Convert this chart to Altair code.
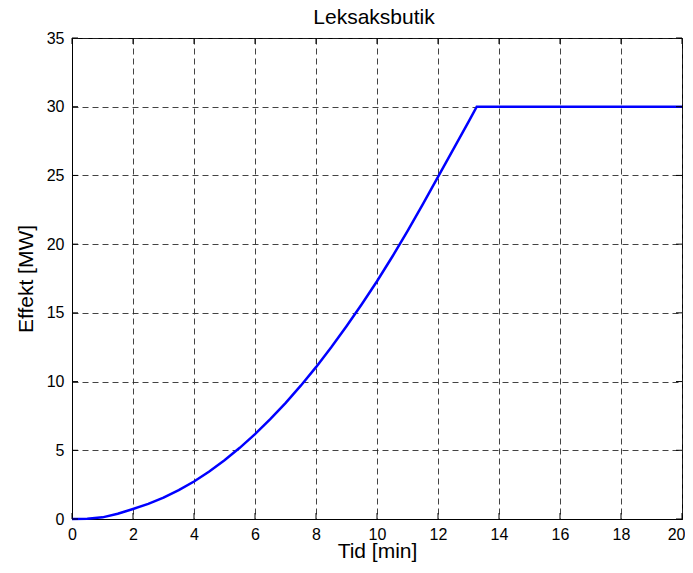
import altair as alt
import pandas as pd

# Data
tid = [0, 0.5, 1, 1.5, 2, 2.5, 3, 3.5, 4, 4.5, 5, 5.5, 6, 6.5, 7, 7.5, 8, 8.5, 9, 9.5,
       10, 10.5, 11, 11.5, 12, 12.5, 13, 13.27, 14, 16, 18, 20]
effekt = [0, 0.02, 0.12, 0.38, 0.73, 1.1, 1.55, 2.1, 2.73, 3.46, 4.27, 5.18, 6.17, 7.26,
          8.43, 9.7, 11.05, 12.5, 14.03, 15.63, 17.3, 19.08, 20.95, 22.9, 24.9, 26.9,
          28.9, 30, 30, 30, 30, 30]

x_ticks = [0, 2, 4, 6, 8, 10, 12, 14, 16, 18, 20]
y_ticks = [0, 5, 10, 15, 20, 25, 30, 35]

title_text = "Leksaksbutik"
x_title = "Tid [min]"
y_title = "Effekt [MW]"

W, H = 610, 481
TL = 6  # inside tick length

df = pd.DataFrame({"t": tid, "p": effekt})
dfx = pd.DataFrame({"t": x_ticks})
dfy = pd.DataFrame({"p": y_ticks})

xscale = alt.Scale(domain=[0, 20], nice=False, zero=False)
yscale = alt.Scale(domain=[0, 35], nice=False, zero=False)

FONT = "Liberation Sans"
common = dict(grid=True, ticks=False, labelFlush=False, titleBaseline="alphabetic",
              domainColor="black", gridColor="#222", gridDash=[6, 4], gridOpacity=0.85,
              labelFont=FONT, labelFontSize=16, labelColor="black",
              titleFont=FONT, titleFontSize=21, titleFontWeight="normal",
              titleColor="black")

xaxis = alt.Axis(values=x_ticks, title=x_title, labelPadding=7, titleY=38,
                 labelAlign=alt.expr("datum.value == 20 ? 'right' : 'center'"),
                 labelOffset=alt.expr("datum.value == 20 ? 3 : 0"),
                 **common)
yaxis = alt.Axis(values=y_ticks, title=y_title, labelPadding=8, titleX=-40,
                 titleAngle=-90, **common)

line = alt.Chart(df).mark_line(color="#0000FF", strokeWidth=2.5).encode(
    x=alt.X("t:Q", scale=xscale, axis=xaxis),
    y=alt.Y("p:Q", scale=yscale, axis=yaxis),
)

tick_style = dict(color="black", strokeWidth=1)
xt_bottom = alt.Chart(dfx).mark_rule(**tick_style).encode(
    x=alt.X("t:Q", scale=xscale), y=alt.value(H), y2=alt.value(H - TL))
xt_top = alt.Chart(dfx).mark_rule(**tick_style).encode(
    x=alt.X("t:Q", scale=xscale), y=alt.value(0), y2=alt.value(TL))
yt_left = alt.Chart(dfy).mark_rule(**tick_style).encode(
    y=alt.Y("p:Q", scale=yscale), x=alt.value(0), x2=alt.value(TL))
yt_right = alt.Chart(dfy).mark_rule(**tick_style).encode(
    y=alt.Y("p:Q", scale=yscale), x=alt.value(W), x2=alt.value(W - TL))

title = alt.Chart(pd.DataFrame({"title": [title_text]})).mark_text(
    font=FONT, fontSize=21, color="black", align="center", baseline="alphabetic"
).encode(x=alt.value(302), y=alt.value(-14), text="title:N")

chart = alt.layer(line, xt_bottom, xt_top, yt_left, yt_right, title).properties(
    width=W, height=H,
    autosize=alt.AutoSizeParams(type="none"),
    padding={"left": 64, "top": 30, "right": 3, "bottom": 46},
    background="white",
).configure_view(
    stroke="black", strokeWidth=1
)

chart.save("out.html", embed_options={"renderer": "svg", "actions": False})
